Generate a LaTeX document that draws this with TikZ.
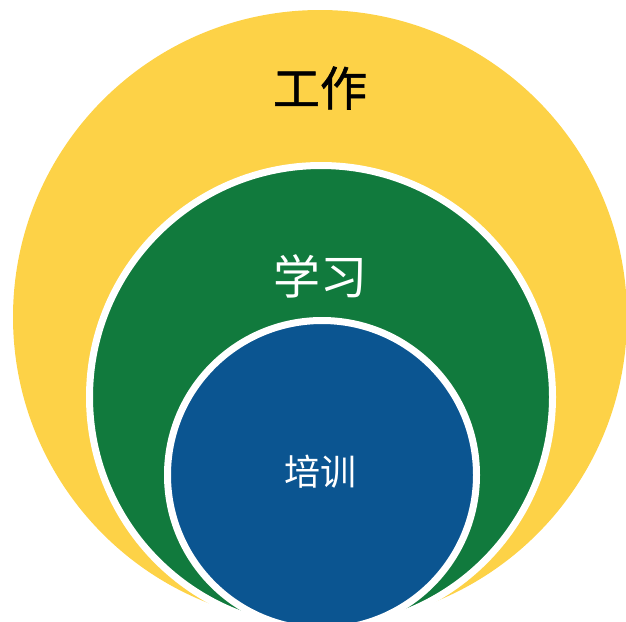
\documentclass[tikz,border=0pt]{standalone}
\usepackage{fontspec}
\newfontfamily\cjk{Noto Sans CJK SC}
\newfontfamily\cjkwork[FakeBold=1.2]{Noto Sans CJK SC}
\definecolor{workyellow}{RGB}{253,210,71}
\definecolor{studygreen}{RGB}{17,122,61}
\definecolor{trainblue}{RGB}{11,85,145}
\tikzset{
  ring/.style={circle, inner sep=0pt, outer sep=0pt, draw=white, line width=7pt},
  label/.style={font=\cjk, inner sep=0pt}
}
\begin{document}
\begin{tikzpicture}[x=1pt, y=1pt]
            \useasboundingbox (0,0) rectangle (626,-621);
            \node[circle, fill=workyellow, inner sep=0pt, minimum size=614pt] (work) at (320,-317) {};
            \node[ring, fill=studygreen, minimum size=463pt] (study) at (321,-397) {};
            \node[ring, fill=trainblue, minimum size=309pt] (train) at (322,-475) {};

            \node[label, font=\cjkwork\fontsize{47}{47}\selectfont, text=black] (worklbl) at (320,-88) {工作};
            \node[label, font=\cjk\fontsize{47}{47}\selectfont, text=white] (studylbl) at (320,-276) {学习};
            \node[label, font=\cjk\fontsize{36}{36}\selectfont, text=white] (trainlbl) at (320,-472) {培训};
        \end{tikzpicture}
\end{document}
